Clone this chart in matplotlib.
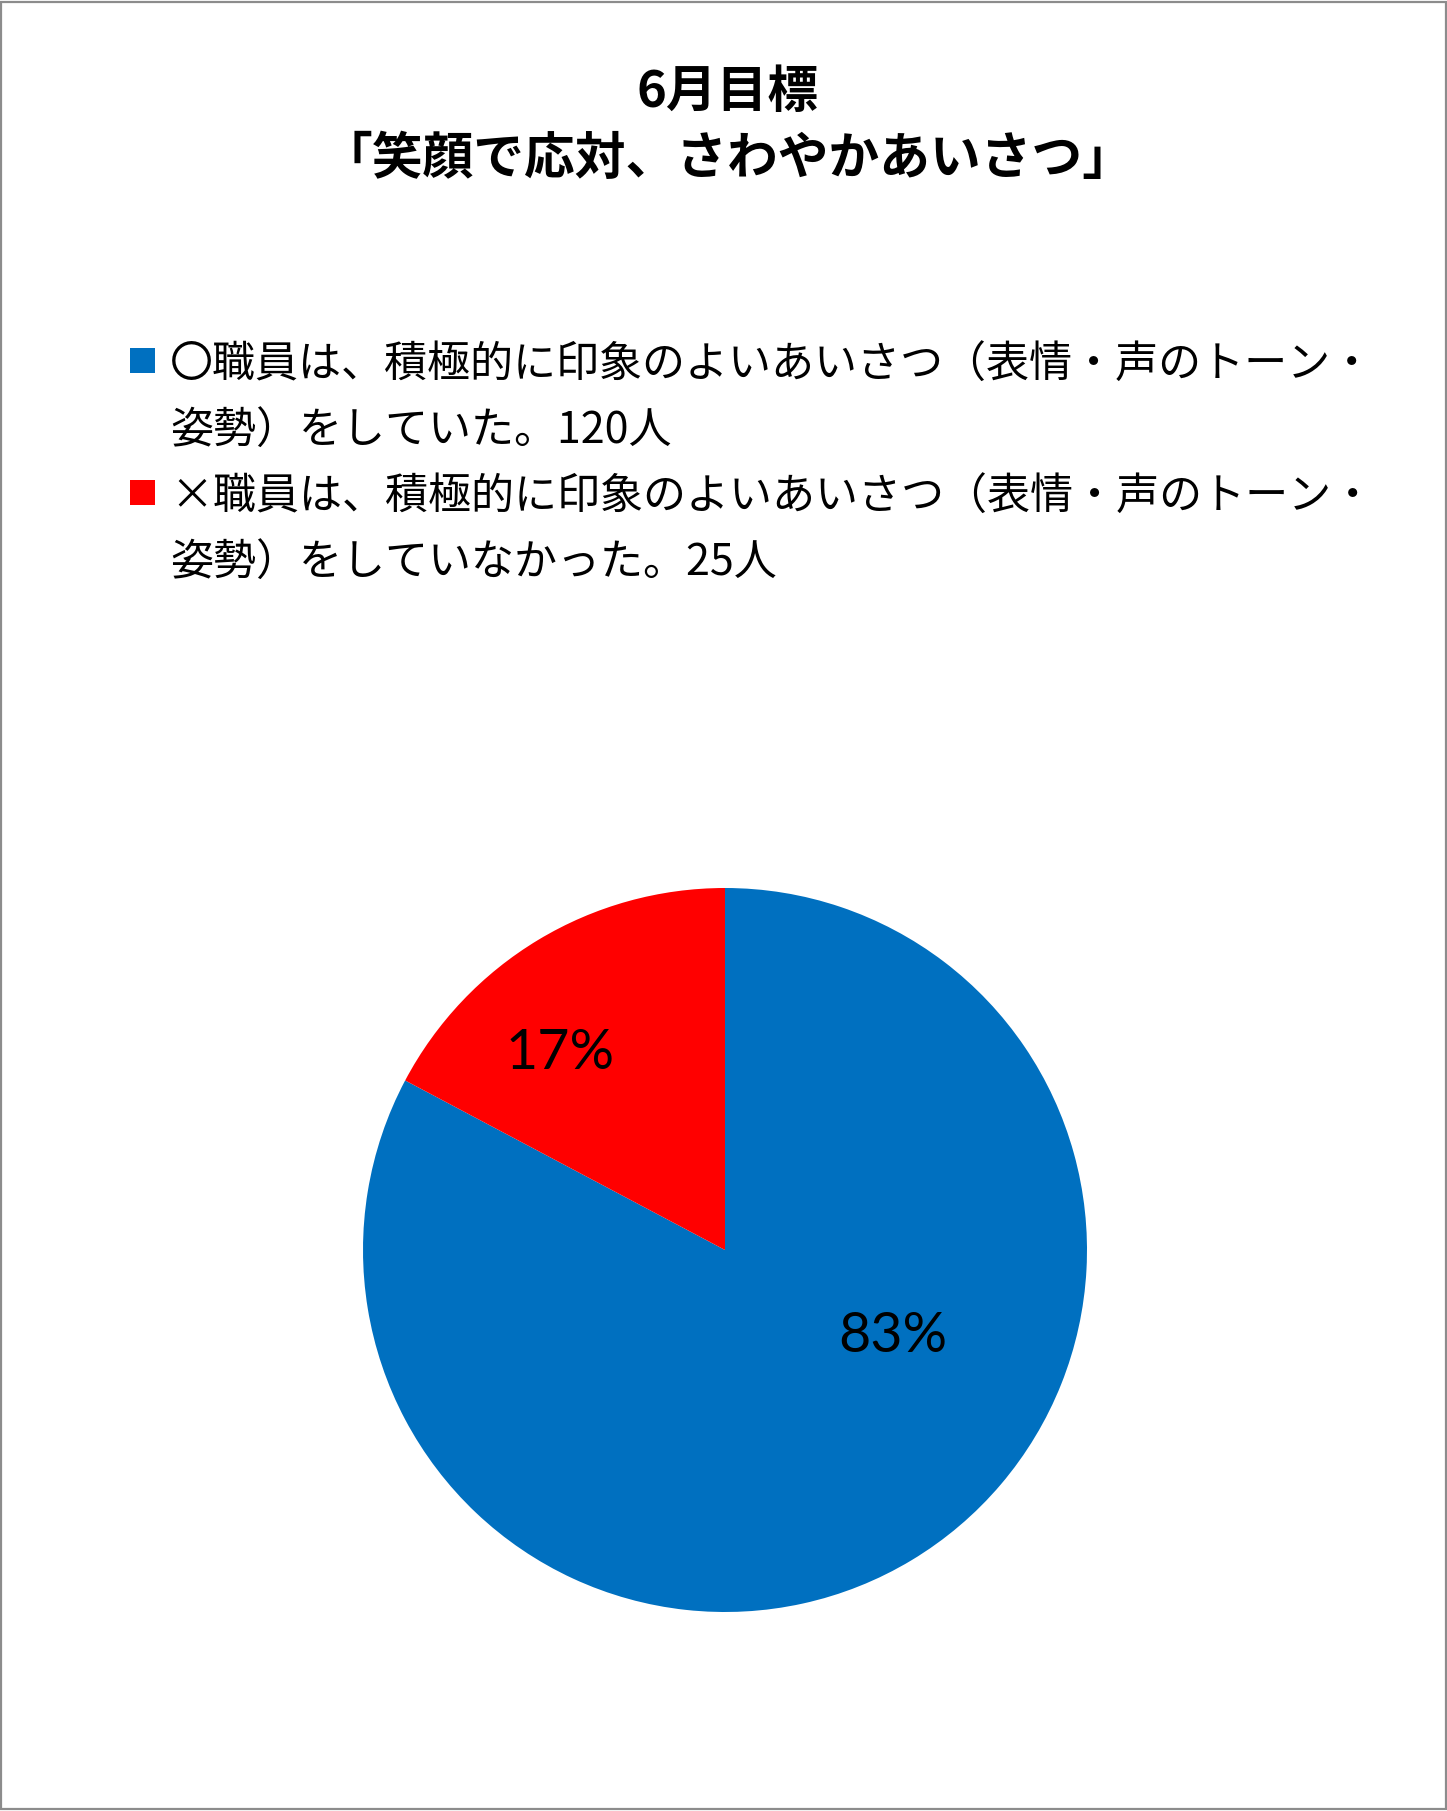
import matplotlib
matplotlib.use("Agg")
import matplotlib.pyplot as plt
from matplotlib.patches import Rectangle

plt.rcParams["font.family"] = ["Noto Sans CJK JP", "DejaVu Sans"]

# data
TITLE = "6月目標\n「笑顔で応対、さわやかあいさつ」"
LABELS = [
    "〇職員は、積極的に印象のよいあいさつ（表情・声のトーン・\n姿勢）をしていた。120人",
    "×職員は、積極的に印象のよいあいさつ（表情・声のトーン・\n姿勢）をしていなかった。25人",
]
COUNTS = [120, 25]
COLORS = ["#0070C0", "#FF0000"]
# label spots inside the pie (radius units), as placed in the original
LABEL_POS = [(0.464, -0.238), (-0.456, 0.544)]

W, H = 1447, 1811
fig = plt.figure(figsize=(W / 100, H / 100), dpi=100)
fig.patch.set_facecolor("white")

# outer frame
fig.add_artist(Rectangle((0.001, 0.001), 0.998, 0.998, transform=fig.transFigure,
                         fill=False, edgecolor="#8c8c8c", linewidth=1.6))

fig.text(728 / W, 1 - 126 / H, TITLE, ha="center", va="center",
         fontsize=36.5, fontweight="bold", linespacing=1.42)

# legend, drawn by hand so the marker sits on the first line
item_y = [361, 493]
for lab, col, y in zip(LABELS, COLORS, item_y):
    fig.add_artist(Rectangle((130 / W, 1 - (y + 12) / H), 25 / W, 25 / H,
                             transform=fig.transFigure, facecolor=col, edgecolor="none"))
    fig.text(170 / W, 1 - (y - 17) / H, lab, ha="left", va="top",
             fontsize=31, linespacing=1.63)

# pie
cx, cy, r = 725, 1250, 362
ax = fig.add_axes([(cx - r) / W, (H - cy - r) / H, 2 * r / W, 2 * r / H])
total = sum(COUNTS)
ax.pie(COUNTS, colors=COLORS, startangle=90, counterclock=False, radius=1,
       wedgeprops={"linewidth": 0})
for (x, y), n in zip(LABEL_POS, COUNTS):
    ax.text(x, y, f"{round(100 * n / total)}%", ha="center", va="center",
            fontsize=40, family=["Lato", "DejaVu Sans"], color="black")
ax.set_xlim(-1, 1)
ax.set_ylim(-1, 1)
ax.set_aspect("equal")
ax.axis("off")

fig.savefig("out.png", dpi=100)
